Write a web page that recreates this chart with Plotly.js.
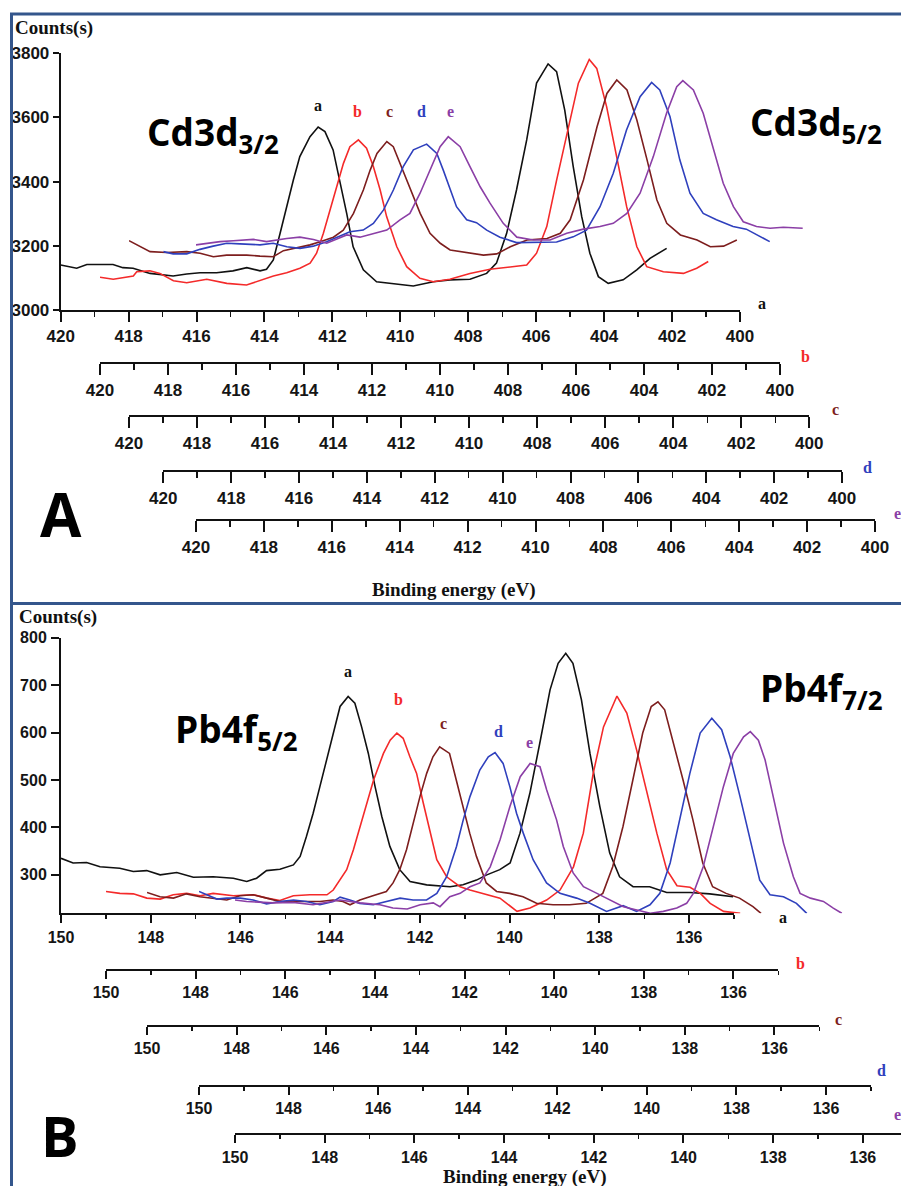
<!DOCTYPE html>
<html>
<head>
<meta charset="utf-8">
<script src="https://cdn.plot.ly/plotly-3.0.1.min.js"></script>
<style>html,body{margin:0;padding:0;background:#fff;}#chart{width:901px;height:1186px;}</style>
</head>
<body>
<div id="chart"></div>
<script>
// ---------- DATA ----------
const seriesNames = ['a', 'b', 'c', 'd', 'e'];

// Panel A : Cd3d (each curve read against its own shifted energy axis)
const cdEnergy_a = [420.0,419.53,419.23,418.46,418.17,417.87,417.37,416.69,416.29,415.90,415.41,414.93,414.52,414.13,413.94,413.74,413.54,413.35,413.15,412.96,412.66,412.42,412.22,411.98,411.78,411.58,411.39,411.09,410.70,410.21,409.62,409.03,408.54,407.95,407.46,407.17,406.87,406.58,406.28,405.99,405.65,405.40,405.16,404.91,404.66,404.42,404.17,403.88,403.44,403.04,402.65,402.16];
const cdCounts_a = [3140,3130,3142,3142,3132,3130,3114,3106,3112,3116,3116,3122,3132,3122,3127,3156,3239,3322,3405,3478,3540,3570,3556,3499,3405,3301,3197,3125,3088,3083,3075,3088,3094,3096,3114,3146,3239,3374,3530,3707,3767,3743,3623,3447,3291,3177,3104,3083,3094,3125,3161,3192];
const cdEnergy_b = [420.00,419.61,419.02,418.92,418.53,418.24,417.84,417.45,416.86,416.27,415.69,415.29,414.90,414.51,414.12,413.82,413.63,413.43,413.24,413.04,412.84,412.65,412.40,412.16,411.96,411.76,411.57,411.27,410.98,410.59,410.20,409.71,409.12,408.53,407.94,407.45,407.16,406.86,406.57,406.27,405.93,405.61,405.39,405.10,404.80,404.51,404.21,403.92,403.43,402.84,402.45,402.11];
const cdCounts_b = [3102,3096,3106,3119,3122,3114,3091,3085,3096,3083,3078,3091,3106,3116,3130,3146,3177,3239,3312,3384,3457,3509,3530,3504,3447,3374,3291,3197,3135,3099,3088,3096,3114,3127,3135,3140,3177,3260,3405,3551,3707,3781,3753,3634,3478,3322,3197,3135,3119,3114,3130,3151];
const cdEnergy_c = [420.00,419.68,419.38,418.89,418.30,417.91,417.52,417.13,416.54,416.15,415.76,415.46,415.17,414.68,414.38,413.99,413.70,413.40,413.11,412.91,412.71,412.42,412.23,412.03,411.74,411.44,411.15,410.85,410.56,410.07,409.58,409.19,408.79,408.30,407.71,407.32,407.03,406.64,406.24,405.95,405.66,405.36,405.07,404.77,404.48,404.19,403.79,403.30,402.91,402.52,402.13];
const cdCounts_c = [3216,3199,3182,3179,3182,3177,3166,3171,3171,3168,3166,3185,3192,3203,3213,3227,3249,3301,3374,3436,3488,3525,3509,3457,3384,3301,3239,3208,3187,3179,3171,3175,3197,3218,3223,3239,3281,3405,3571,3675,3717,3686,3592,3468,3343,3270,3234,3218,3197,3199,3218];
const cdEnergy_d = [420.00,419.71,419.31,418.92,418.53,418.13,417.74,417.15,416.76,416.36,415.97,415.58,415.19,414.80,414.50,414.11,413.81,413.51,413.22,412.93,412.63,412.24,411.94,411.75,411.55,411.36,411.06,410.77,410.47,410.08,409.59,409.00,408.41,407.92,407.53,407.13,406.74,406.35,405.95,405.61,405.37,405.07,404.78,404.48,404.09,403.70,403.21,402.82,402.42,402.13];
const cdCounts_d = [3182,3175,3175,3189,3199,3208,3206,3203,3208,3197,3192,3199,3213,3231,3244,3249,3270,3312,3374,3447,3499,3517,3488,3436,3374,3322,3281,3272,3249,3227,3210,3210,3212,3228,3249,3322,3426,3561,3665,3709,3686,3603,3468,3364,3301,3281,3260,3252,3228,3213];
const cdEnergy_e = [420.00,419.68,419.29,418.90,418.31,417.92,417.33,416.94,416.54,416.15,415.56,415.17,414.78,414.38,413.99,413.70,413.40,413.11,412.81,412.57,412.22,411.93,411.63,411.34,410.95,410.55,410.06,409.57,409.08,408.59,408.10,407.71,407.31,406.92,406.53,406.14,405.84,405.66,405.35,405.06,404.76,404.47,404.17,403.88,403.49,403.09,402.70,402.13];
const cdCounts_e = [3203,3208,3213,3216,3220,3213,3223,3227,3220,3208,3234,3227,3239,3249,3281,3301,3364,3436,3509,3540,3509,3447,3384,3333,3270,3227,3218,3218,3239,3252,3260,3270,3301,3364,3478,3613,3696,3715,3686,3613,3499,3395,3322,3275,3260,3255,3258,3255];

// Panel B : Pb4f
const pbEnergy_a = [150.0,149.73,149.43,149.13,148.69,148.39,148.09,147.79,147.42,147.05,146.61,146.16,145.86,145.64,145.42,145.12,144.82,144.67,144.53,144.38,144.23,144.08,143.93,143.78,143.60,143.45,143.30,143.15,143.00,142.85,142.67,142.45,142.22,141.85,141.33,141.04,140.74,140.51,140.22,139.99,139.77,139.55,139.33,139.10,138.92,138.75,138.59,138.40,138.21,137.99,137.77,137.55,137.25,136.88,136.50,135.98,135.54,135.02];
const pbCounts_a = [335,325,326,317,314,307,309,300,305,295,296,293,286,293,309,312,321,339,381,430,486,542,599,655,676,662,612,556,486,423,360,311,286,279,275,279,289,300,311,325,388,472,577,690,746,767,746,669,556,444,346,296,275,275,263,263,260,254];
const pbEnergy_b = [150.00,149.69,149.39,149.09,148.79,148.50,148.20,147.90,147.61,147.16,146.71,146.41,146.12,145.82,145.45,145.07,144.93,144.78,144.63,144.48,144.33,144.18,144.03,143.81,143.66,143.51,143.37,143.22,143.07,142.92,142.77,142.62,142.40,142.10,141.88,141.58,141.21,140.83,140.54,140.17,139.87,139.57,139.35,139.13,138.90,138.60,138.38,138.16,137.93,137.71,137.49,137.26,136.97,136.74,136.52,136.22,135.85];
const pbCounts_b = [265,261,260,251,249,258,261,256,261,256,258,251,246,256,258,258,268,289,311,353,402,451,500,556,584,599,588,549,514,451,388,332,296,275,268,261,251,223,230,247,268,317,388,514,612,677,641,563,472,388,311,277,274,261,240,223,219];
const pbEnergy_c = [150.00,149.71,149.41,149.12,148.82,148.52,148.22,147.93,147.63,147.33,147.04,146.59,146.14,145.85,145.63,145.47,145.25,144.96,144.66,144.51,144.36,144.21,144.06,143.91,143.76,143.62,143.47,143.25,143.10,142.95,142.80,142.65,142.43,142.20,141.91,141.61,141.31,140.94,140.57,140.20,139.83,139.61,139.38,139.16,138.94,138.75,138.60,138.45,138.27,138.04,137.82,137.60,137.38,137.08,136.78,136.48,136.30];
const pbCounts_c = [263,254,251,260,254,251,247,256,258,251,244,244,244,247,244,237,247,256,265,283,311,353,409,465,514,549,570,556,500,444,388,339,283,265,261,254,240,237,237,240,261,317,402,500,599,655,665,648,584,500,416,325,275,261,251,233,219];
const pbEnergy_d = [150.00,149.83,149.60,149.38,149.08,148.79,148.49,148.19,147.89,147.60,147.30,147.00,146.85,146.63,146.41,146.11,145.81,145.51,145.22,144.92,144.69,144.47,144.25,144.10,143.95,143.73,143.54,143.39,143.21,143.06,142.91,142.76,142.54,142.24,141.94,141.57,141.27,140.90,140.53,140.23,139.93,139.71,139.48,139.26,139.04,138.81,138.55,138.33,138.14,137.92,137.70,137.48,137.25,136.95,136.66,136.43];
const pbCounts_d = [265,258,249,251,251,247,239,244,247,244,237,244,253,247,240,237,244,251,247,247,261,296,360,416,465,521,549,558,535,486,430,388,332,283,261,251,240,223,235,223,237,261,325,423,514,599,630,606,549,465,374,289,258,254,240,219];
const pbEnergy_e = [150.00,149.74,149.15,148.71,148.26,147.66,147.21,146.77,146.48,146.16,145.87,145.58,145.43,145.21,144.98,144.76,144.54,144.31,144.09,143.87,143.64,143.42,143.20,143.05,142.83,142.68,142.46,142.23,141.93,141.64,141.34,141.04,140.74,140.45,140.15,139.93,139.78,139.56,139.33,139.11,138.89,138.66,138.51,138.33,138.18,137.99,137.77,137.55,137.40,137.17,136.88,136.66,136.47];
const pbCounts_e = [247,244,241,242,237,247,241,237,230,228,237,241,233,254,261,275,283,317,374,444,507,535,528,479,416,360,304,275,261,247,233,226,219,223,230,240,261,317,402,486,556,591,602,584,542,458,367,296,261,251,244,230,219];

const cdRange = [420, 400];
const pbRange = [150, 135];
const cdCountRange = [3000, 3800];
const pbCountRange = [219, 800];

// ---------- STYLE ----------
const colors = ['#111111', '#f42a2a', '#7d1e1e', '#2f40bd', '#8b3fa6'];
const W = 901, H = 1186;
const px = v => v / W;
const py = v => 1 - v / H;

const cdX = [cdEnergy_a, cdEnergy_b, cdEnergy_c, cdEnergy_d, cdEnergy_e];
const cdY = [cdCounts_a, cdCounts_b, cdCounts_c, cdCounts_d, cdCounts_e];
const pbX = [pbEnergy_a, pbEnergy_b, pbEnergy_c, pbEnergy_d, pbEnergy_e];
const pbY = [pbCounts_a, pbCounts_b, pbCounts_c, pbCounts_d, pbCounts_e];

const traces = [];
seriesNames.forEach((n, i) => {
  traces.push({x: cdX[i], y: cdY[i], type: 'scatter', mode: 'lines', name: n,
    xaxis: i === 0 ? 'x' : 'x' + (i + 1), yaxis: 'y',
    line: {color: colors[i], width: 1.6}, hoverinfo: 'skip'});
});
seriesNames.forEach((n, i) => {
  traces.push({x: pbX[i], y: pbY[i], type: 'scatter', mode: 'lines', name: n,
    xaxis: 'x' + (i + 6), yaxis: 'y2',
    line: {color: colors[i], width: 1.6}, hoverinfo: 'skip'});
});

const tickFontA = {family: 'Liberation Sans, Arial, sans-serif', size: 17, color: '#151515', weight: 'bold'};
const tickFontB = {family: 'Liberation Sans, Arial, sans-serif', size: 16, color: '#151515', weight: 'bold'};

function xAx(l, r, range, anchor, pos, font, standoff, tlen, mlen) {
  const a = {
    domain: [px(l), Math.min(1, px(r))], range: range, autorange: false,
    showline: true, linecolor: '#111', linewidth: 2,
    ticks: 'outside', ticklen: tlen, tickwidth: 2, tickcolor: '#111',
    tick0: 0, dtick: 2,
    minor: {ticks: 'outside', ticklen: mlen, tickwidth: 1.5, tickcolor: '#111', dtick: 1, tick0: 0, showgrid: false},
    showgrid: false, zeroline: false, tickfont: font, ticklabelstandoff: standoff,
    fixedrange: true, anchor: anchor
  };
  if (anchor === 'free') a.position = py(pos);
  return a;
}

const layout = {
  width: W, height: H, autosize: false,
  margin: {l: 0, r: 0, t: 0, b: 0, pad: 0},
  paper_bgcolor: '#ffffff', plot_bgcolor: 'rgba(0,0,0,0)',
  showlegend: false,
  // Panel A axes
  xaxis:  xAx(60.7, 740, cdRange, 'y', null, tickFontA, 0, 10, 5),
  xaxis2: xAx(100, 780, cdRange, 'free', 363, tickFontA, 1, 11, 6),
  xaxis3: xAx(129, 809.3, cdRange, 'free', 415.7, tickFontA, 1, 11, 6),
  xaxis4: xAx(163.3, 842, cdRange, 'free', 470.7, tickFontA, 1, 11, 6),
  xaxis5: xAx(196, 875, cdRange, 'free', 520, tickFontA, 1, 11, 6),
  yaxis: {domain: [py(310), py(53.3)], range: cdCountRange, anchor: 'x',
    showline: true, linecolor: '#111', linewidth: 2, ticks: 'outside', ticklen: 6, tickwidth: 2,
    tickcolor: '#111', tick0: 3000, dtick: 200, showgrid: false, zeroline: false,
    tickfont: tickFontA, ticklabelstandoff: 0, fixedrange: true},
  // Panel B axes
  xaxis6:  xAx(61, 734, pbRange, 'y2', null, tickFontB, 0, 8, 4),
  xaxis7:  xAx(106, 778.3, pbRange, 'free', 970, tickFontB, 0, 8, 4),
  xaxis8:  xAx(147, 819.3, pbRange, 'free', 1026, tickFontB, 0, 8, 4),
  xaxis9:  xAx(199, 870.8, pbRange, 'free', 1086, tickFontB, 0, 8, 4),
  xaxis10: xAx(235, 901, [150, 135.15], 'free', 1134.3, tickFontB, 0, 8, 4),
  yaxis2: {domain: [py(913.3), py(637.7)], range: pbCountRange, anchor: 'x6',
    showline: true, linecolor: '#111', linewidth: 2, ticks: 'outside', ticklen: 8, tickwidth: 2,
    tickcolor: '#111', tick0: 0, dtick: 100, showgrid: false, zeroline: false,
    tickfont: tickFontB, ticklabelstandoff: 1, fixedrange: true},
  shapes: [
    {type: 'line', xref: 'paper', yref: 'paper', x0: px(11.5), x1: px(11.5), y0: py(13), y1: 0, line: {color: '#34568c', width: 3}},
    {type: 'line', xref: 'paper', yref: 'paper', x0: px(10), x1: 1, y0: py(14), y1: py(14), line: {color: '#34568c', width: 3}},
    {type: 'line', xref: 'paper', yref: 'paper', x0: px(10), x1: 1, y0: py(603.5), y1: py(603.5), line: {color: '#34568c', width: 3}}
  ],
  annotations: []
};

const serif = 'Liberation Serif, Times New Roman, serif';
const sans = 'Open Sans, Noto Sans, sans-serif';
function ann(text, x, y, font, xanchor, yanchor) {
  layout.annotations.push({text: text, x: px(x), y: py(y), xref: 'paper', yref: 'paper',
    showarrow: false, xanchor: xanchor || 'center', yanchor: yanchor || 'middle', font: font});
}
// axis titles
ann('Counts(s)', 13, 28, {family: serif, size: 19, color: '#111', weight: 'bold'}, 'left');
ann('Counts(s)', 17, 617, {family: serif, size: 19, color: '#111', weight: 'bold'}, 'left');
ann('Binding energy (eV)', 454, 590, {family: serif, size: 19, color: '#111', weight: 'bold'});
ann('Binding energy (eV)', 525, 1177, {family: serif, size: 19, color: '#111', weight: 'bold'});
// orbital labels
const big = {family: sans, size: 37, color: '#000', weight: 'bold'};
ann('Cd3d<sub>3/2</sub>', 145, 134, big, 'left');
ann('Cd3d<sub>5/2</sub>', 748, 124, big, 'left');
ann('Pb4f<sub>5/2</sub>', 173, 731, big, 'left');
ann('Pb4f<sub>7/2</sub>', 758, 690, big, 'left');
// panel letters
ann('A', 61, 514, {family: sans, size: 60, color: '#000', weight: 'bold'});
ann('B', 60, 1135, {family: sans, size: 56, color: '#000', weight: 'bold'});
// series labels over peaks and at axis ends
const peakLabA = [[318, 106], [357, 111], [389, 111], [421, 111], [450, 111]];
const axisLabA = [[762, 303], [805, 357], [835, 409], [867, 468], [897, 514]];
const peakLabB = [[348, 671], [398, 699], [443, 724], [498, 731], [529, 742]];
const axisLabB = [[783, 917], [800, 963], [838, 1019], [881, 1070], [897, 1114]];
seriesNames.forEach((n, i) => {
  const f = {family: serif, size: 16, color: colors[i], weight: 'bold'};
  ann(n, peakLabA[i][0], peakLabA[i][1], f);
  ann(n, axisLabA[i][0], axisLabA[i][1], f);
  ann(n, peakLabB[i][0], peakLabB[i][1], f);
  ann(n, axisLabB[i][0], axisLabB[i][1], f);
});

Plotly.newPlot('chart', traces, layout, {staticPlot: true, displayModeBar: false});
</script>
</body>
</html>
